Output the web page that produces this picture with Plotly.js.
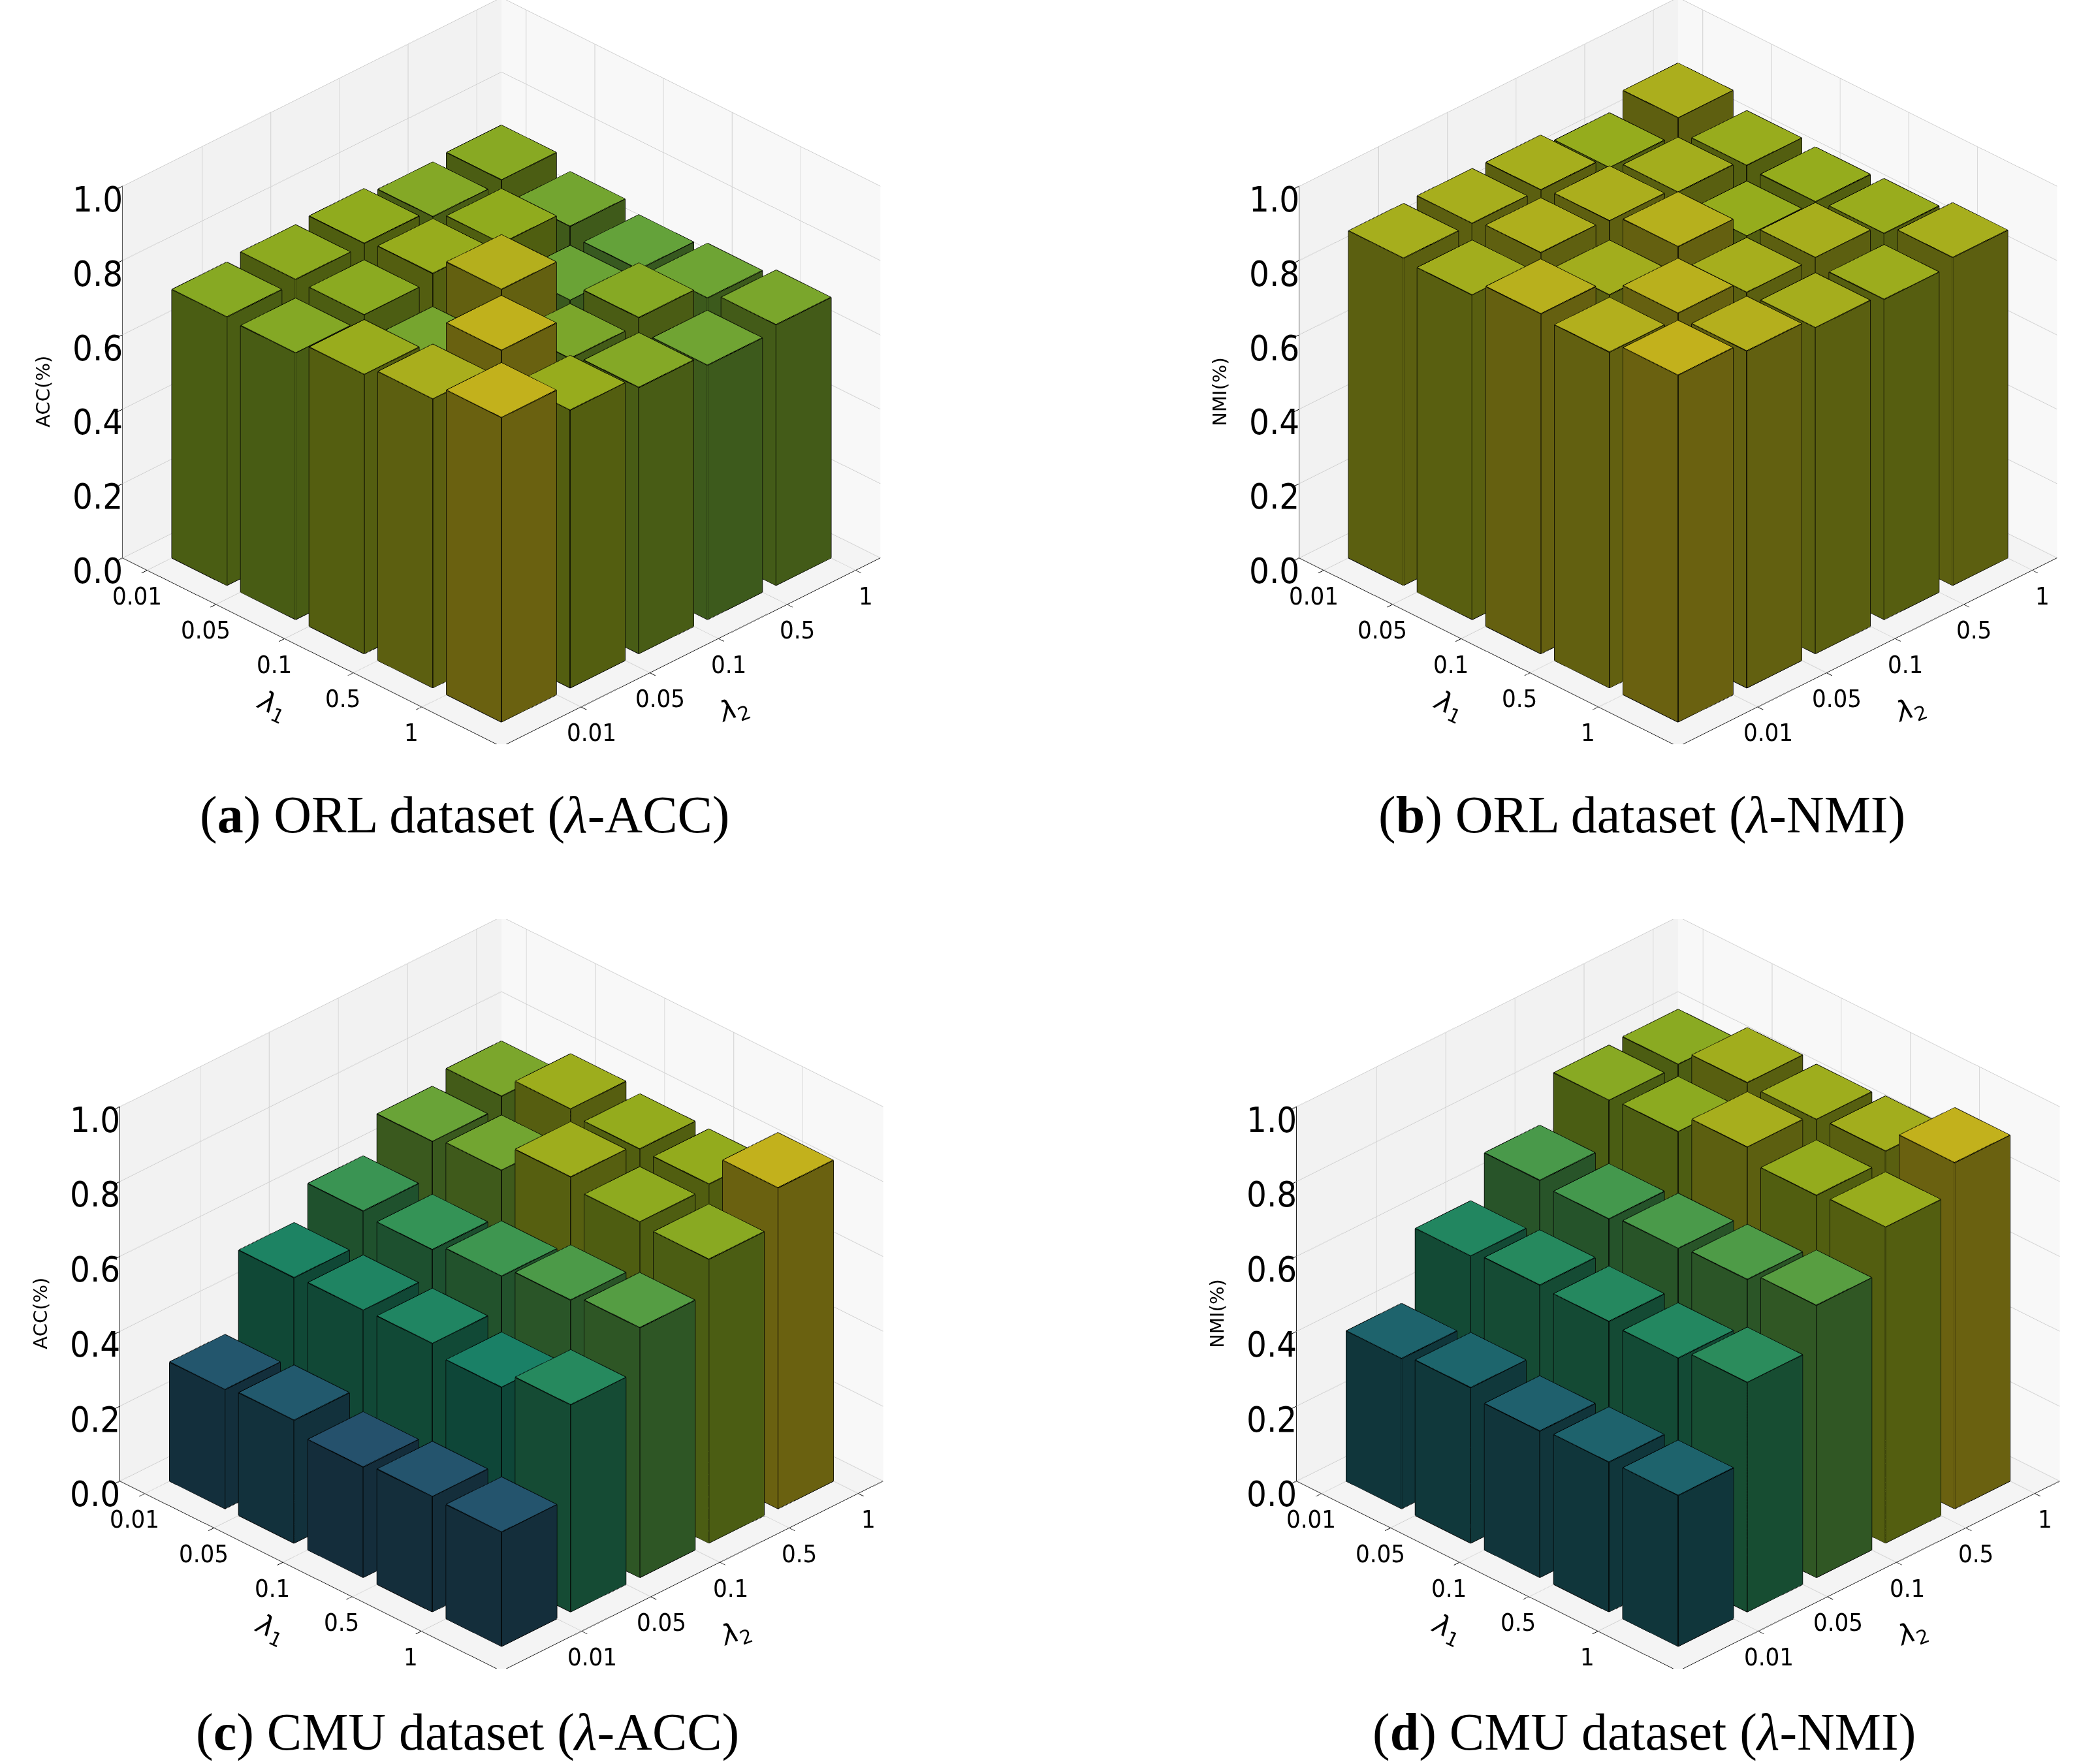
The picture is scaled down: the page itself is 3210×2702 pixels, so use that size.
<!DOCTYPE html>
<html>
<head>
<meta charset="utf-8">
<script src="https://cdn.jsdelivr.net/npm/plotly.js-dist@3.0.1/plotly.min.js"></script>
<style>body{margin:0;background:#fff}</style>
</head>
<body>
<div id="plot" style="width:3210px;height:2702px"></div>
<script>
// tick labels shared by lambda1 and lambda2
let lambdaLabels = ['0.01', '0.05', '0.1', '0.5', '1'];
let zTicks = [0, 0.2, 0.4, 0.6, 0.8, 1.0];

// rows: lambda1 = 0.01 .. 1, columns: lambda2 = 0.01 .. 1
let orlAcc = [
    [0.722, 0.731, 0.736, 0.716, 0.723],
    [0.717, 0.728, 0.747, 0.736, 0.690],
    [0.751, 0.694, 0.796, 0.675, 0.666],
    [0.777, 0.816, 0.702, 0.720, 0.681],
    [0.819, 0.747, 0.716, 0.684, 0.701]
];
let orlNmi = [
    [0.880, 0.882, 0.880, 0.848, 0.890],
    [0.873, 0.895, 0.889, 0.874, 0.854],
    [0.914, 0.873, 0.911, 0.848, 0.848],
    [0.903, 0.916, 0.880, 0.882, 0.855],
    [0.933, 0.906, 0.877, 0.861, 0.882]
];
let cmuAcc = [
    [0.318, 0.525, 0.611, 0.705, 0.734],
    [0.328, 0.530, 0.600, 0.720, 0.792],
    [0.295, 0.533, 0.621, 0.794, 0.777],
    [0.308, 0.508, 0.649, 0.766, 0.775],
    [0.305, 0.553, 0.667, 0.758, 0.857]
];
let cmuNmi = [
    [0.401, 0.583, 0.693, 0.815, 0.819],
    [0.415, 0.597, 0.682, 0.823, 0.862],
    [0.391, 0.592, 0.695, 0.874, 0.856],
    [0.400, 0.586, 0.704, 0.837, 0.863],
    [0.403, 0.613, 0.727, 0.844, 0.924]
];

// matplotlib viridis, 11 stops
let viridis = ['#440154', '#482475', '#414487', '#355f8d', '#2a788e', '#21918c',
               '#22a884', '#44bf70', '#7ad151', '#bddf26', '#fde725'];

function hexToRgb(h){
    return [parseInt(h.substr(1,2),16), parseInt(h.substr(3,2),16), parseInt(h.substr(5,2),16)];
}

function viridisAt(t, shade){
    t = Math.max(0, Math.min(1, t));
    let p = t*10;
    let k = Math.min(9, Math.floor(p));
    let f = p - k;
    let a = hexToRgb(viridis[k]);
    let b = hexToRgb(viridis[k+1]);
    let c = a.map((v, n) => Math.round((v + (b[n]-v)*f)*shade));
    return 'rgb(' + c.join(',') + ')';
}

let barW = 0.8;
let lo = -0.36, hi = 5.16;   // axis range for both lambda axes
let xTickPos = [0, 1, 2, 3, 4];                 // lambda1 ticks sit at bar starts
let yTickPos = xTickPos.map(v => v + barW);     // lambda2 ticks sit at bar ends

// cuboids for one panel, coloured like bar3d with shade=True
function barTraces(vals, sceneName){
    let X = [], Y = [], Z = [], I = [], J = [], K = [], fc = [];
    let ex = [], ey = [], ez = [];
    let vmax = Math.max(...vals.flat());
    for(let a = 0; a < vals.length; a++){
        for(let b = 0; b < vals[a].length; b++){
            let h = vals[a][b];
            let x0 = a, x1 = a + barW, y0 = b, y1 = b + barW;
            let n = X.length;
            let px = [x0, x1, x1, x0, x0, x1, x1, x0];
            let py = [y0, y0, y1, y1, y0, y0, y1, y1];
            let pz = [0, 0, 0, 0, h, h, h, h];
            X.push(...px); Y.push(...py); Z.push(...pz);
            let t = h / vmax;
            let faces = [
                [[0,1,2],[0,2,3], 0.53],   // bottom
                [[4,5,6],[4,6,7], 0.767],  // top
                [[0,1,5],[0,5,4], 0.42],   // front (-y)
                [[1,2,6],[1,6,5], 0.42],   // +x
                [[2,3,7],[2,7,6], 0.42],   // back
                [[3,0,4],[3,4,7], 0.42]    // -x
            ];
            faces.forEach(f => {
                let col = viridisAt(t, f[2]);
                [f[0], f[1]].forEach(tri => {
                    I.push(n + tri[0]); J.push(n + tri[1]); K.push(n + tri[2]);
                    fc.push(col);
                });
            });
            let edges = [[0,1],[1,2],[2,3],[3,0],[4,5],[5,6],[6,7],[7,4],[0,4],[1,5],[2,6],[3,7]];
            edges.forEach(e => {
                ex.push(px[e[0]], px[e[1]], null);
                ey.push(py[e[0]], py[e[1]], null);
                ez.push(pz[e[0]], pz[e[1]], null);
            });
        }
    }
    let mesh = {
        type: 'mesh3d', scene: sceneName,
        x: X, y: Y, z: Z, i: I, j: J, k: K,
        facecolor: fc, flatshading: true,
        lighting: {ambient: 1, diffuse: 0, specular: 0, roughness: 1, fresnel: 0},
        hoverinfo: 'skip', showscale: false
    };
    let lines = {
        type: 'scatter3d', mode: 'lines', scene: sceneName,
        x: ex, y: ey, z: ez,
        line: {color: '#000000', width: 3},
        hoverinfo: 'skip', showlegend: false
    };
    return [mesh, lines];
}

let tickFont = {family: 'DejaVu Sans Condensed, DejaVu Sans', size: 38, color: '#000'};
let zTickFont = {family: 'DejaVu Sans Condensed, DejaVu Sans', size: 54, color: '#000'};

// tick labels and titles are drawn as scene annotations at data positions
// (kept a hair inside the range so plotly does not drop them)
function sceneLabels(ztitle){
    let ann = [];
    let xl = lo + 0.01, yl = lo + 0.01, xh = hi - 0.01;
    lambdaLabels.forEach((s, n) => {
        ann.push({x: xTickPos[n], y: yl, z: 0, text: s, showarrow: false, font: tickFont,
                  xshift: -17, yshift: -40});
        ann.push({x: xh, y: yTickPos[n], z: 0, text: s, showarrow: false, font: tickFont,
                  xshift: 17, yshift: -40});
    });
    zTicks.forEach(t => {
        ann.push({x: xl, y: yl, z: t, text: t.toFixed(1), showarrow: false, font: zTickFont,
                  xshift: -40, yshift: -20});
    });
    let tf = {family: 'DejaVu Sans', size: 42, color: '#000'};
    ann.push({x: xTickPos[2], y: yl, z: 0, text: '<i>λ</i><sub>1</sub>', showarrow: false, font: tf,
              textangle: 25, xshift: -20, yshift: -104});
    ann.push({x: xh, y: yTickPos[2], z: 0, text: '<i>λ</i><sub>2</sub>', showarrow: false, font: tf,
              textangle: -20, xshift: 25, yshift: -110});
    ann.push({x: xl, y: yl, z: 0.5, text: ztitle, showarrow: false, textangle: -90,
              font: {family: 'DejaVu Sans', size: 29, color: '#000'},
              xshift: -124, yshift: -30});
    return ann;
}

function lambdaAxis(bg, tickPos){
    return {
        title: {text: ''},
        range: [lo, hi], autorange: false,
        tickvals: tickPos, showticklabels: false,
        ticks: 'outside', ticklen: 12, tickcolor: '#000', tickwidth: 2,
        showgrid: true, gridcolor: '#cfcfcf', gridwidth: 2,
        showline: true, linecolor: '#222', linewidth: 2,
        showbackground: true, backgroundcolor: bg,
        zeroline: false, showspikes: false
    };
}

function makeScene(dx, dy, ztitle){
    return {
        domain: {x: dx, y: dy},
        camera: {
            eye: {x: 0.85, y: -0.85, z: 0.69},
            center: {x: 0, y: 0, z: 0},
            up: {x: 0, y: 0, z: 1},
            projection: {type: 'orthographic'}
        },
        aspectmode: 'manual',
        aspectratio: {x: 1.44, y: 1.44, z: 1.152},
        xaxis: lambdaAxis('#f2f2f2', xTickPos),
        yaxis: lambdaAxis('#f8f8f8', yTickPos),
        zaxis: {
            title: {text: ''},
            range: [0, 1], autorange: false,
            tickvals: zTicks, showticklabels: false,
            ticks: 'outside', ticklen: 12, tickcolor: '#000', tickwidth: 2,
            showgrid: true, gridcolor: '#cfcfcf', gridwidth: 2,
            showline: true, linecolor: '#222', linewidth: 2,
            showbackground: true, backgroundcolor: '#f4f4f4',
            zeroline: false, showspikes: false
        },
        annotations: sceneLabels(ztitle)
    };
}

let W = 3210, H = 2702;
let topY = [1 - 1140/H, 1];
let botY = [1 - 2556/H, 1 - 1408/H];
let leftX = [128/W, 1408/W];
let rightX = [1930/W, 1];

function caption(x, y, letter, name, metric){
    return {
        xref: 'paper', yref: 'paper', x: x, y: y,
        xanchor: 'center', yanchor: 'middle', showarrow: false,
        text: '(<b>' + letter + '</b>) ' + name + ' dataset (<i>λ</i>-' + metric + ')',
        font: {family: 'Liberation Serif', size: 80, color: '#000'}
    };
}

function draw(){
    let data = [].concat(
        barTraces(orlAcc, 'scene'),
        barTraces(orlNmi, 'scene2'),
        barTraces(cmuAcc, 'scene3'),
        barTraces(cmuNmi, 'scene4')
    );
    let layout = {
        width: W, height: H,
        margin: {l: 0, r: 0, t: 0, b: 0},
        paper_bgcolor: '#ffffff',
        showlegend: false,
        scene: makeScene(leftX, topY, 'ACC(%)'),
        scene2: makeScene(rightX, topY, 'NMI(%)'),
        scene3: makeScene(leftX, botY, 'ACC(%)'),
        scene4: makeScene(rightX, botY, 'NMI(%)'),
        annotations: [
            caption(712/W, 1 - 1249/H, 'a', 'ORL', 'ACC'),
            caption(2514/W, 1 - 1249/H, 'b', 'ORL', 'NMI'),
            caption(716/W, 1 - 2653/H, 'c', 'CMU', 'ACC'),
            caption(2518/W, 1 - 2653/H, 'd', 'CMU', 'NMI')
        ]
    };
    Plotly.newPlot('plot', data, layout, {displayModeBar: false, plotGlPixelRatio: 1});
}

window.addEventListener('load', () => setTimeout(draw, 50));
</script>
</body>
</html>
